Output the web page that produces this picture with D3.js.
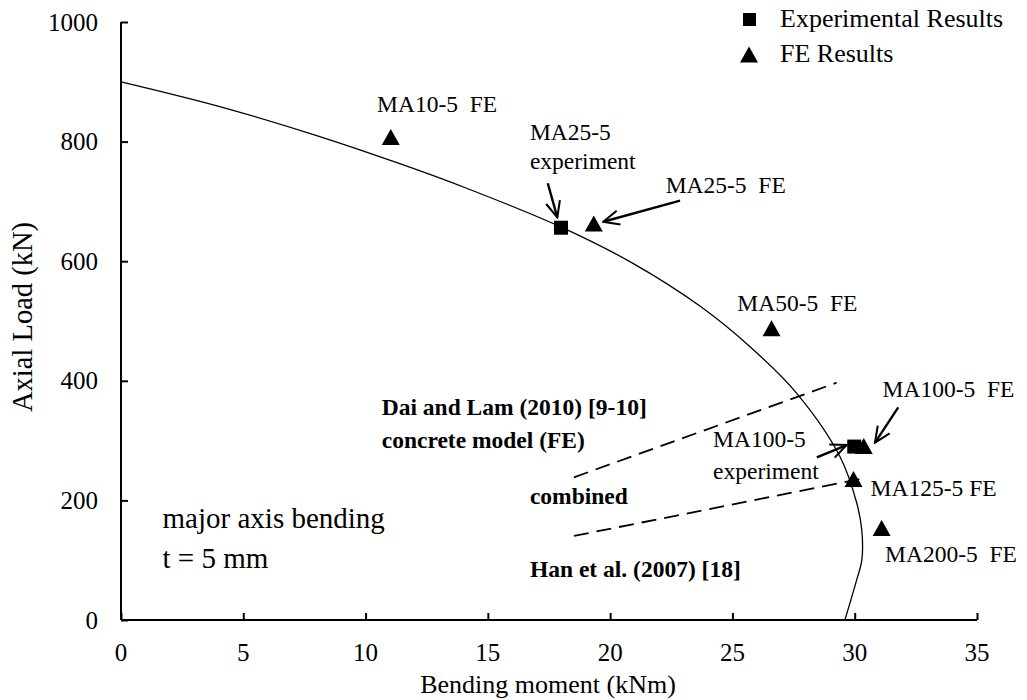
<!DOCTYPE html>
<html>
<head>
<meta charset="utf-8">
<script src="https://cdn.jsdelivr.net/npm/d3@7"></script>
<style>
body { margin: 0; background: #fff; }
svg text { font-family: "Liberation Serif", "Times New Roman", Times, serif; fill: #000; }
</style>
</head>
<body>
<div id="graphContainer"></div>
<script>
// interaction curve (bending moment kNm, axial load kN)
var curveM = [0, 4, 8, 11.4, 14.13, 18, 20.95, 23.67, 25.72, 27.63, 29.4, 30.08, 30.29, 30.29, 30.08, 29.6];
var curveN = [900, 859, 810, 763, 722, 657, 596, 525, 457, 379, 273, 196, 150, 100, 67, 0];

// experimental results
var expNames = ["MA25-5", "MA100-5"];
var expM = [17.99, 29.98];
var expN = [656, 290];

// FE results
var feNames = ["MA10-5", "MA25-5", "MA50-5", "MA100-5", "MA125-5", "MA200-5"];
var feM = [11.03, 19.33, 26.6, 30.37, 29.95, 31.1];
var feN = [807, 662, 487, 290, 235, 153];

var xTicks = [0, 5, 10, 15, 20, 25, 30, 35];
var yTicks = [0, 200, 400, 600, 800, 1000];

// dashed leader lines [M1, N1, M2, N2]
var dashLines = [
	[18.52, 238.6, 29.26, 396.8],
	[18.52, 140.5, 30.49, 238]
];

// arrows [tailM, tailN, tipM, tipN]
var arrows = [
	[17.45, 730.3, 17.84, 673.4],
	[22.86, 701.2, 19.72, 666],
	[31.78, 355.7, 30.83, 296.5],
	[28.45, 272, 29.67, 292.6]
];

// labels [text, M, N]
var labels = [
	["MA10-5  FE", 10.47, 850],
	["MA25-5", 16.72, 802.7],
	["experiment", 16.72, 753.7],
	["MA25-5  FE", 22.27, 713.5],
	["MA50-5  FE", 25.2, 517.2],
	["MA100-5  FE", 31.14, 373.4],
	["MA100-5", 24.21, 288.8],
	["experiment", 24.21, 235.3],
	["MA125-5 FE", 30.65, 207.9],
	["MA200-5  FE", 31.24, 97]
];
var boldLabels = [
	["Dai and Lam (2010) [9-10]", 10.66, 342.8],
	["concrete model (FE)", 10.66, 287.6],
	["combined", 16.72, 194],
	["Han et al. (2007) [18]", 16.72, 71.9]
];
var noteLabels = [
	["major axis bending", 1.7, 153.8],
	["t = 5 mm", 1.7, 87]
];

var legendNames = ["Experimental Results", "FE Results"];

var serif = '"Liberation Serif", "Times New Roman", Times, serif';

GenerateGraph();

function triPath(cx, cy)
{
	return "M" + cx + "," + (cy - 8.5) + "L" + (cx + 9) + "," + (cy + 7.5) + "L" + (cx - 9) + "," + (cy + 7.5) + "Z";
}

function GenerateGraph()
{
	var width = 1027, height = 700;
	var left = 121, right = 977, top = 22, bottom = 620;

	var svg = d3.select("#graphContainer").append("svg")
		.attr("width", width)
		.attr("height", height)
		.attr("font-family", serif);

	var x = d3.scaleLinear().domain([0, 35]).range([left, right]);
	var y = d3.scaleLinear().domain([0, 1000]).range([bottom, top]);

	/* Axes, ticks pointing inward */
	var xAxis = d3.axisTop(x).tickValues(xTicks).tickSize(7).tickFormat("");
	var yAxis = d3.axisRight(y).tickValues(yTicks).tickSize(7).tickFormat("");

	var gx = svg.append("g")
		.attr("transform", `translate(0, ${bottom})`)
		.call(xAxis);
	var gy = svg.append("g")
		.attr("transform", `translate(${left}, 0)`)
		.call(yAxis);
	gx.select(".domain").attr("d", `M${left},0H${right}`);
	gy.select(".domain").attr("d", `M0,${top}V${bottom}`);
	[gx, gy].forEach(function(g) {
		g.select(".domain").attr("stroke", "#000").attr("stroke-width", 2);
		g.selectAll(".tick line").attr("stroke", "#000").attr("stroke-width", 2);
	});

	svg.append("g").selectAll("text")
		.data(xTicks).enter()
		.append("text")
		.attr("x", d => x(d))
		.attr("y", 661)
		.attr("text-anchor", "middle")
		.attr("font-family", serif)
		.style("font-size", "25px")
		.text(d => d);

	svg.append("g").selectAll("text")
		.data(yTicks).enter()
		.append("text")
		.attr("x", 98)
		.attr("y", d => y(d) + 8.5)
		.attr("text-anchor", "end")
		.attr("font-family", serif)
		.style("font-size", "25px")
		.text(d => d);

	svg.append("text")
		.attr("x", (left + right) / 2 - 1)
		.attr("y", 693)
		.attr("text-anchor", "middle")
		.attr("font-family", serif)
		.style("font-size", "26px")
		.text("Bending moment (kNm)");

	svg.append("text")
		.attr("transform", "translate(32, 317) rotate(-90)")
		.attr("text-anchor", "middle")
		.attr("font-family", serif)
		.style("font-size", "28.5px")
		.text("Axial Load (kN)");

	/* Interaction curve */
	var line = d3.line()
		.x(d => x(d[0]))
		.y(d => y(d[1]))
		.curve(d3.curveCatmullRom.alpha(0.5));
	svg.append("path")
		.datum(curveM.map((m, i) => [m, curveN[i]]))
		.attr("d", line)
		.attr("fill", "none")
		.attr("stroke", "#000")
		.attr("stroke-width", 1.3);

	/* Dashed lines */
	svg.append("g").selectAll("line")
		.data(dashLines).enter()
		.append("line")
		.attr("x1", d => x(d[0])).attr("y1", d => y(d[1]))
		.attr("x2", d => x(d[2])).attr("y2", d => y(d[3]))
		.attr("stroke", "#000")
		.attr("stroke-width", 1.8)
		.attr("stroke-dasharray", "15,8");

	/* Arrows */
	svg.append("defs").append("marker")
		.attr("id", "arrowhead")
		.attr("viewBox", "0 0 12 12")
		.attr("refX", 11).attr("refY", 6)
		.attr("markerUnits", "userSpaceOnUse")
		.attr("markerWidth", 19).attr("markerHeight", 19)
		.attr("orient", "auto")
		.append("path")
		.attr("d", "M1,1.5L11,6L1,10.5")
		.attr("fill", "none")
		.attr("stroke", "#000")
		.attr("stroke-width", 1.3);

	svg.append("g").selectAll("line")
		.data(arrows).enter()
		.append("line")
		.attr("x1", d => x(d[0])).attr("y1", d => y(d[1]))
		.attr("x2", d => x(d[2])).attr("y2", d => y(d[3]))
		.attr("stroke", "#000")
		.attr("stroke-width", 2.4)
		.attr("marker-end", "url(#arrowhead)");

	/* Points */
	svg.append("g").selectAll("rect")
		.data(expM).enter()
		.append("rect")
		.attr("x", d => x(d) - 7)
		.attr("y", (d, i) => y(expN[i]) - 7)
		.attr("width", 14).attr("height", 14)
		.attr("fill", "#000");

	svg.append("g").selectAll("path")
		.data(feM).enter()
		.append("path")
		.attr("d", (d, i) => triPath(x(d), y(feN[i])))
		.attr("fill", "#000");

	/* Labels */
	svg.append("g").selectAll("text")
		.data(labels).enter()
		.append("text")
		.attr("x", d => x(d[1])).attr("y", d => y(d[2]))
		.attr("font-family", serif)
		.style("font-size", "23.5px")
		.style("white-space", "pre")
		.text(d => d[0]);

	svg.append("g").selectAll("text")
		.data(boldLabels).enter()
		.append("text")
		.attr("x", d => x(d[1])).attr("y", d => y(d[2]))
		.attr("font-family", serif)
		.style("font-size", "23.5px")
		.style("font-weight", "bold")
		.text(d => d[0]);

	svg.append("g").selectAll("text")
		.data(noteLabels).enter()
		.append("text")
		.attr("x", d => x(d[1])).attr("y", d => y(d[2]))
		.attr("font-family", serif)
		.style("font-size", "29px")
		.text(d => d[0]);

	/* Legend */
	var legend = svg.append("g");
	legend.append("rect")
		.attr("x", 743).attr("y", 13)
		.attr("width", 13).attr("height", 13)
		.attr("fill", "#000");
	legend.append("path")
		.attr("d", triPath(749, 55))
		.attr("fill", "#000");
	legend.selectAll("text")
		.data(legendNames).enter()
		.append("text")
		.attr("x", 780)
		.attr("y", (d, i) => 27 + i * 35)
		.attr("font-family", serif)
		.style("font-size", "26px")
		.text(d => d);
}
</script>
</body>
</html>
